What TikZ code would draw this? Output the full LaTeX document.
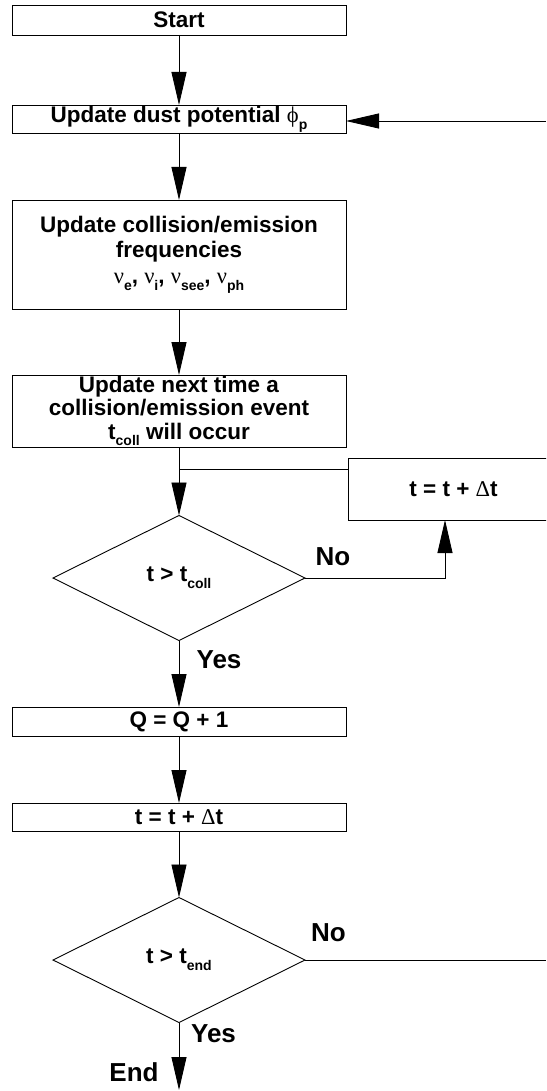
\documentclass[tikz,border=0pt]{standalone}
\usepackage{fontspec}
\setmainfont{Liberation Sans}
\newfontfamily\grk{Liberation Serif}
\usetikzlibrary{arrows.meta,shapes.geometric}
\newcommand\gk[1]{{\grk\mdseries #1}}
\newcommand\sbs[1]{\raisebox{-0.3em}{\fontsize{14}{14}\selectfont #1}}
\begin{document}
\begin{tikzpicture}[x=1pt,y=-1pt,
  every node/.style={font=\bfseries\fontsize{22.5}{23.5}\selectfont},
  stepbox/.style={draw, line width=0.9pt, rectangle, inner sep=0pt, outer sep=0pt,
    minimum width=334pt, align=center},
  decbox/.style={draw, line width=0.9pt, diamond, aspect=2, inner sep=0pt, outer sep=0pt,
    minimum width=252pt, minimum height=125pt},
  conn/.style={line width=0.9pt},
  arr/.style={conn, -{Triangle[length=33pt,width=15pt]}},
  lbl/.style={font=\bfseries\fontsize{26}{26}\selectfont, inner sep=0pt}]
\useasboundingbox (0,0) rectangle (546,1091);
\clip (0,0) rectangle (546,1091);

\node[stepbox, minimum height=30pt] (start) at (179,20) {Start};
\node[stepbox, minimum height=28pt] (dust) at (179,119) {Update dust potential \gk{ϕ}\sbs{p}};
\node[stepbox, minimum height=109pt, font=\bfseries\fontsize{22.5}{25.5}\selectfont] (coll) at (179,254.5)
  {Update collision/emission\\frequencies\\\gk{ν}\sbs{e}, \gk{ν}\sbs{i}, \gk{ν}\sbs{see}, \gk{ν}\sbs{ph}};
\node[stepbox, minimum height=72pt] (next) at (179,411)
  {Update next time a\\collision/emission event\\t\sbs{coll} will occur};
\node[stepbox, minimum width=211pt, minimum height=62pt] (rbox) at (453.5,489) {t = t + \gk{Δ}t};
\coordinate (junc) at (179,469);
\node[decbox] (d1) at (179,578) {t > t\sbs{coll}};
\node[stepbox, minimum height=29pt] (q) at (179,721.5) {Q = Q + 1};
\node[stepbox, minimum height=28pt] (tt) at (179,817) {t = t + \gk{Δ}t};
\node[decbox] (d2) at (179,960) {t > t\sbs{end}};
\coordinate (endpt) at (179,1090);
\coordinate (loopout) at (546,960);
\coordinate (loopin) at (546,121);

\node[lbl] (no1) at (333,557) {No};
\node[lbl] (yes1) at (219,660) {Yes};
\node[lbl] (no2) at (328.5,933) {No};
\node[lbl] (yes2) at (213.5,1034) {Yes};
\node[lbl] (endl) at (134,1072) {End};

\draw[arr] (start.south) -- (dust.north);
\draw[arr] (dust.south) -- (coll.north);
\draw[arr] (coll.south) -- (next.north);
\draw[arr] (next.south) -- (d1.north);
\draw[conn] (rbox.west |- junc) -- (junc);
\draw[arr] (d1.east) -| ([xshift=-8.5pt]rbox.south);
\draw[arr] (d1.south) -- (q.north);
\draw[arr] (q.south) -- (tt.north);
\draw[arr] (tt.south) -- (d2.north);
\draw[arr] (d2.south) -- (endpt);
\draw[conn] (d2.east) -- (loopout);
\draw[arr] (loopin) -- (loopin -| dust.east);
\end{tikzpicture}
\end{document}
